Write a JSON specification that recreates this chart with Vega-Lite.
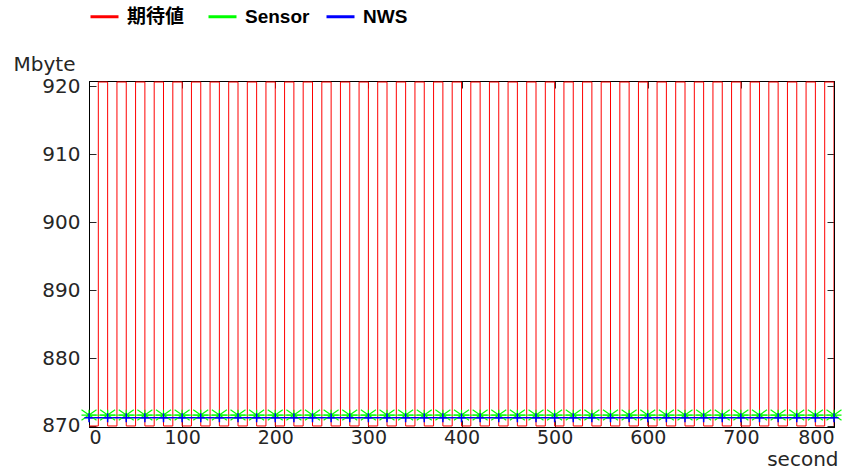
{
  "$schema": "https://vega.github.io/schema/vega-lite/v6.json",
  "autosize": "none",
  "width": 745,
  "height": 346,
  "padding": {"left": 89, "top": 81, "right": 29, "bottom": 45},
  "background": "white",
  "config": {
    "view": {"stroke": "black", "strokeWidth": 1},
    "axis": {
      "grid": false,
      "domainColor": "black",
      "domainWidth": 1,
      "tickColor": "#262626",
      "tickSize": -7,
      "tickWidth": 1,
      "labelFont": "DejaVu Sans",
      "labelFontSize": 20,
      "labelColor": "#262626",
      "titleFont": "DejaVu Sans",
      "titleFontSize": 20,
      "titleFontWeight": "normal",
      "titleColor": "#262626"
    },
    "legend": {
      "orient": "none",
      "legendX": 0,
      "legendY": -80,
      "direction": "horizontal",
      "symbolType": "stroke",
      "symbolSize": 784,
      "symbolStrokeWidth": 3,
      "labelFont": "Liberation Sans, Noto Sans CJK JP",
      "labelFontWeight": "bold",
      "labelFontSize": 19,
      "labelColor": "black",
      "labelOffset": 7,
      "columnPadding": 10,
      "gridAlign": "all"
    }
  },
  "datasets": {
    "expected": [
      {"t": 0, "v": 870}, {"t": 10, "v": 920.6}, {"t": 20, "v": 870}, {"t": 30, "v": 920.6},
      {"t": 40, "v": 870}, {"t": 50, "v": 920.6}, {"t": 60, "v": 870}, {"t": 70, "v": 920.6},
      {"t": 80, "v": 870}, {"t": 90, "v": 920.6}, {"t": 100, "v": 870}, {"t": 110, "v": 920.6},
      {"t": 120, "v": 870}, {"t": 130, "v": 920.6}, {"t": 140, "v": 870}, {"t": 150, "v": 920.6},
      {"t": 160, "v": 870}, {"t": 170, "v": 920.6}, {"t": 180, "v": 870}, {"t": 190, "v": 920.6},
      {"t": 200, "v": 870}, {"t": 210, "v": 920.6}, {"t": 220, "v": 870}, {"t": 230, "v": 920.6},
      {"t": 240, "v": 870}, {"t": 250, "v": 920.6}, {"t": 260, "v": 870}, {"t": 270, "v": 920.6},
      {"t": 280, "v": 870}, {"t": 290, "v": 920.6}, {"t": 300, "v": 870}, {"t": 310, "v": 920.6},
      {"t": 320, "v": 870}, {"t": 330, "v": 920.6}, {"t": 340, "v": 870}, {"t": 350, "v": 920.6},
      {"t": 360, "v": 870}, {"t": 370, "v": 920.6}, {"t": 380, "v": 870}, {"t": 390, "v": 920.6},
      {"t": 400, "v": 870}, {"t": 410, "v": 920.6}, {"t": 420, "v": 870}, {"t": 430, "v": 920.6},
      {"t": 440, "v": 870}, {"t": 450, "v": 920.6}, {"t": 460, "v": 870}, {"t": 470, "v": 920.6},
      {"t": 480, "v": 870}, {"t": 490, "v": 920.6}, {"t": 500, "v": 870}, {"t": 510, "v": 920.6},
      {"t": 520, "v": 870}, {"t": 530, "v": 920.6}, {"t": 540, "v": 870}, {"t": 550, "v": 920.6},
      {"t": 560, "v": 870}, {"t": 570, "v": 920.6}, {"t": 580, "v": 870}, {"t": 590, "v": 920.6},
      {"t": 600, "v": 870}, {"t": 610, "v": 920.6}, {"t": 620, "v": 870}, {"t": 630, "v": 920.6},
      {"t": 640, "v": 870}, {"t": 650, "v": 920.6}, {"t": 660, "v": 870}, {"t": 670, "v": 920.6},
      {"t": 680, "v": 870}, {"t": 690, "v": 920.6}, {"t": 700, "v": 870}, {"t": 710, "v": 920.6},
      {"t": 720, "v": 870}, {"t": 730, "v": 920.6}, {"t": 740, "v": 870}, {"t": 750, "v": 920.6},
      {"t": 760, "v": 870}, {"t": 770, "v": 920.6}, {"t": 780, "v": 870}, {"t": 790, "v": 920.6},
      {"t": 800, "v": 870}
    ],
    "sensor": [
      {"t": 0, "v": 871.6}, {"t": 20, "v": 871.6}, {"t": 40, "v": 871.6}, {"t": 60, "v": 871.6},
      {"t": 80, "v": 871.6}, {"t": 100, "v": 871.6}, {"t": 120, "v": 871.6}, {"t": 140, "v": 871.6},
      {"t": 160, "v": 871.6}, {"t": 180, "v": 871.6}, {"t": 200, "v": 871.6}, {"t": 220, "v": 871.6},
      {"t": 240, "v": 871.6}, {"t": 260, "v": 871.6}, {"t": 280, "v": 871.6}, {"t": 300, "v": 871.6},
      {"t": 320, "v": 871.6}, {"t": 340, "v": 871.6}, {"t": 360, "v": 871.6}, {"t": 380, "v": 871.6},
      {"t": 400, "v": 871.6}, {"t": 420, "v": 871.6}, {"t": 440, "v": 871.6}, {"t": 460, "v": 871.6},
      {"t": 480, "v": 871.6}, {"t": 500, "v": 871.6}, {"t": 520, "v": 871.6}, {"t": 540, "v": 871.6},
      {"t": 560, "v": 871.6}, {"t": 580, "v": 871.6}, {"t": 600, "v": 871.6}, {"t": 620, "v": 871.6},
      {"t": 640, "v": 871.6}, {"t": 660, "v": 871.6}, {"t": 680, "v": 871.6}, {"t": 700, "v": 871.6},
      {"t": 720, "v": 871.6}, {"t": 740, "v": 871.6}, {"t": 760, "v": 871.6}, {"t": 780, "v": 871.6},
      {"t": 800, "v": 871.6}
    ],
    "nws": [
      {"t": 0, "v": 871.2}, {"t": 20, "v": 871.2}, {"t": 40, "v": 871.2}, {"t": 60, "v": 871.2},
      {"t": 80, "v": 871.2}, {"t": 100, "v": 871.2}, {"t": 120, "v": 871.2}, {"t": 140, "v": 871.2},
      {"t": 160, "v": 871.2}, {"t": 180, "v": 871.2}, {"t": 200, "v": 871.2}, {"t": 220, "v": 871.2},
      {"t": 240, "v": 871.2}, {"t": 260, "v": 871.2}, {"t": 280, "v": 871.2}, {"t": 300, "v": 871.2},
      {"t": 320, "v": 871.2}, {"t": 340, "v": 871.2}, {"t": 360, "v": 871.2}, {"t": 380, "v": 871.2},
      {"t": 400, "v": 871.2}, {"t": 420, "v": 871.2}, {"t": 440, "v": 871.2}, {"t": 460, "v": 871.2},
      {"t": 480, "v": 871.2}, {"t": 500, "v": 871.2}, {"t": 520, "v": 871.2}, {"t": 540, "v": 871.2},
      {"t": 560, "v": 871.2}, {"t": 580, "v": 871.2}, {"t": 600, "v": 871.2}, {"t": 620, "v": 871.2},
      {"t": 640, "v": 871.2}, {"t": 660, "v": 871.2}, {"t": 680, "v": 871.2}, {"t": 700, "v": 871.2},
      {"t": 720, "v": 871.2}, {"t": 740, "v": 871.2}, {"t": 760, "v": 871.2}, {"t": 780, "v": 871.2},
      {"t": 800, "v": 871.2}
    ]
  },
  "layer": [
    {
      "data": {"name": "expected"},
      "transform": [{"calculate": "'期待値'", "as": "series"}],
      "mark": {"type": "line", "interpolate": "step-after", "strokeWidth": 1, "clip": true},
      "encoding": {
        "x": {
          "field": "t", "type": "quantitative",
          "scale": {"domain": [0, 800], "nice": false, "zero": false},
          "axis": {
            "orient": "bottom",
            "values": [0, 100, 200, 300, 400, 500, 600, 700, 800],
            "labelPadding": 8.5,
            "labelBaseline": "top",
            "labelFontSize": 19,
            "title": "second",
            "titleAlign": "right",
            "titleBaseline": "alphabetic",
            "titleX": 749,
            "titleY": 38
          }
        },
        "y": {
          "field": "v", "type": "quantitative",
          "scale": {"domain": [869.85, 920.75], "nice": false, "zero": false},
          "axis": {
            "orient": "left",
            "values": [870, 880, 890, 900, 910, 920],
            "labelPadding": 16,
            "title": "Mbyte",
            "titleAngle": 0,
            "titleAlign": "left",
            "titleBaseline": "alphabetic",
            "titleX": -76,
            "titleY": -11
          }
        },
        "color": {
          "field": "series", "type": "nominal",
          "scale": {"domain": ["期待値", "Sensor", "NWS"], "range": ["#ff0000", "#00ff00", "#0000ff"]},
          "legend": {"title": null}
        }
      }
    },
    {
      "data": {"name": "sensor"},
      "transform": [{"calculate": "'Sensor'", "as": "series"}],
      "mark": {"type": "line", "strokeWidth": 1},
      "encoding": {
        "x": {"field": "t", "type": "quantitative", "axis": null},
        "y": {"field": "v", "type": "quantitative", "axis": null},
        "color": {"field": "series", "type": "nominal"}
      }
    },
    {
      "data": {"name": "nws"},
      "transform": [{"calculate": "'NWS'", "as": "series"}],
      "mark": {"type": "line", "strokeWidth": 1.5},
      "encoding": {
        "x": {"field": "t", "type": "quantitative", "axis": null},
        "y": {"field": "v", "type": "quantitative", "axis": null},
        "color": {"field": "series", "type": "nominal"}
      }
    },
    {
      "data": {"name": "sensor"},
      "mark": {
        "type": "point",
        "shape": "M-1,-0.7L1,0.7M1,-0.7L-1,0.7M-1,0L1,0M0,-0.7L0,0.7",
        "filled": false,
        "stroke": "#00ff00",
        "strokeWidth": 1.2,
        "size": 225,
        "opacity": 1
      },
      "encoding": {
        "x": {"field": "t", "type": "quantitative", "axis": null},
        "y": {"field": "v", "type": "quantitative", "axis": null}
      }
    },
    {
      "data": {"name": "nws"},
      "mark": {
        "type": "point",
        "shape": "M-1,0L1,0M0,-1L0,1",
        "filled": false,
        "stroke": "#0000ff",
        "strokeWidth": 1.5,
        "size": 81,
        "opacity": 1
      },
      "encoding": {
        "x": {
          "field": "t", "type": "quantitative",
          "axis": {"orient": "top", "values": [0, 100, 200, 300, 400, 500, 600, 700, 800], "labels": false, "title": null}
        },
        "y": {
          "field": "v", "type": "quantitative",
          "axis": {"orient": "right", "values": [870, 880, 890, 900, 910, 920], "labels": false, "title": null}
        }
      }
    }
  ],
  "resolve": {"axis": {"x": "independent", "y": "independent"}}
}
